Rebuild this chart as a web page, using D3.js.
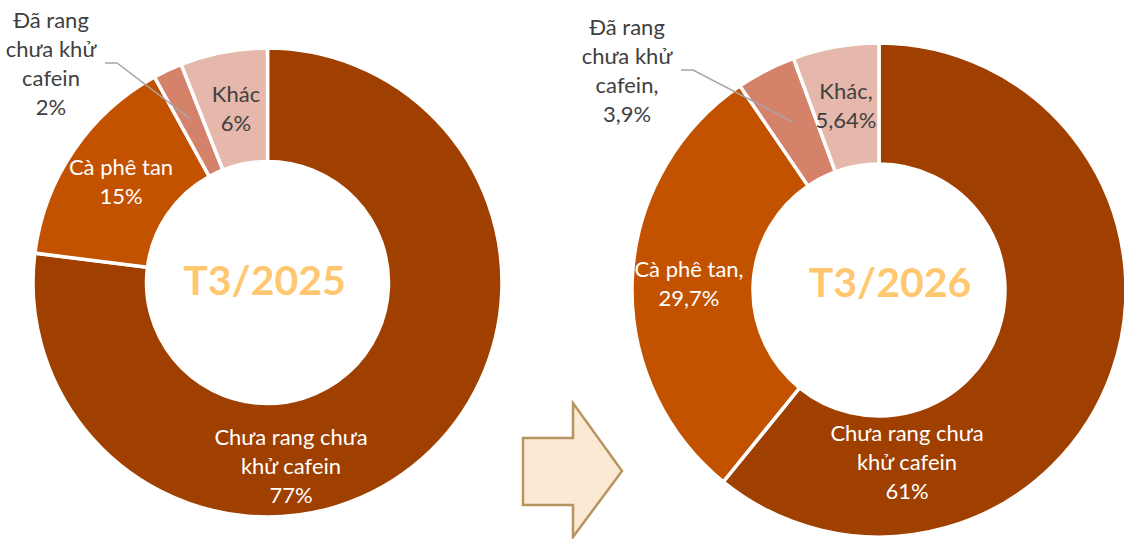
<!DOCTYPE html>
<html>
<head>
<meta charset="utf-8">
<script src="https://cdn.jsdelivr.net/npm/d3@7"></script>
<style>
  html, body { margin: 0; padding: 0; background: #fff; }
  svg { display: block; font-family: Lato, "Noto Sans", sans-serif; }
</style>
</head>
<body>
<div id="chart"></div>
<script>
// categories shared by both doughnuts
const categories = ["Chưa rang chưa khử cafein", "Cà phê tan", "Đã rang chưa khử cafein", "Khác"];
const sliceColors = ["#A04000", "#C25200", "#D5826B", "#E6B8AB"];

// share (%) by period
const values2025 = [77, 15, 2, 6];
const values2026 = [61, 29.7, 3.9, 5.64];

// label text lines, as printed on the picture
const labels2025 = [
  ["Chưa rang chưa", "khử cafein", "77%"],
  ["Cà phê tan", "15%"],
  ["Đã rang", "chưa khử", "cafein", "2%"],
  ["Khác", "6%"]
];
const labels2026 = [
  ["Chưa rang chưa", "khử cafein", "61%"],
  ["Cà phê tan,", "29,7%"],
  ["Đã rang", "chưa khử", "cafein,", "3,9%"],
  ["Khác,", "5,64%"]
];
const titles = ["T3/2025", "T3/2026"];

const W = 1124, H = 539;

const svg = d3.select("#chart")
  .append("svg")
  .attr("width", W)
  .attr("height", H);

// layout of each doughnut (moved labels are offsets from the centre, like Excel manual placement)
const charts = [
  {
    values: values2025, labels: labels2025, title: titles[0],
    cx: 267.5, cy: 282.5, r: 234.5, ri: 121,
    titleOffset: [-3, 12],
    labelOffsets: [[23.5, 162.5], [-146.5, -107.5], [-216.5, -254.5], [-31.5, -180.5]],
    labelColors: ["#fff", "#fff", "#404040", "#404040"]
  },
  {
    values: values2026, labels: labels2026, title: titles[1],
    cx: 879, cy: 290, r: 247, ri: 126,
    titleOffset: [11, 7],
    labelOffsets: [[28, 151], [-190, -13], [-252, -255], [-33, -191]],
    labelColors: ["#fff", "#fff", "#404040", "#404040"]
  }
];

const pie = d3.pie().sort(null).value(d => d);
const lineH = 29;

charts.forEach(c => {
  const g = svg.append("g").attr("transform", `translate(${c.cx},${c.cy})`);
  const arc = d3.arc().innerRadius(c.ri).outerRadius(c.r);
  const arcs = pie(c.values);

  g.selectAll("path.slice")
    .data(arcs)
    .join("path")
    .attr("class", "slice")
    .attr("d", arc)
    .attr("fill", (d, i) => sliceColors[i])
    .attr("stroke", "#fff")
    .attr("stroke-width", 3.5)
    .attr("stroke-linejoin", "miter");

  // leader line for the small slice whose label sits outside
  const midR = (c.ri + c.r) / 2 + 3;
  const small = arcs[2];
  const ang = (small.startAngle + small.endAngle) / 2;
  const tip = [midR * Math.sin(ang), -midR * Math.cos(ang)];
  const lo = c.labelOffsets[2];
  const start = [lo[0] + 54, lo[1] + lineH + 6];
  g.append("polyline")
    .attr("points", [start, [start[0] + 12, start[1]], tip].map(p => p.join(",")).join(" "))
    .attr("fill", "none")
    .attr("stroke", "#A6A6A6")
    .attr("stroke-width", 1.5);

  // data labels
  c.labels.forEach((lines, i) => {
    const [dx, dy] = c.labelOffsets[i];
    const t = g.append("text")
      .attr("x", dx)
      .attr("y", dy)
      .attr("text-anchor", "middle")
      .attr("fill", c.labelColors[i])
      .style("font-size", "22px");
    lines.forEach((s, k) => {
      t.append("tspan")
        .attr("x", dx)
        .attr("dy", k === 0 ? 0 : lineH)
        .text(s);
    });
  });

  // centre title
  g.append("text")
    .attr("x", c.titleOffset[0])
    .attr("y", c.titleOffset[1])
    .attr("text-anchor", "middle")
    .attr("fill", "#FFC870")
    .style("font-size", "41px")
    .style("font-weight", "bold")
    .text(c.title);
});

// arrow between the two doughnuts
const arrow = [[523, 438], [573, 438], [573, 403], [622, 471], [573, 537], [573, 505], [523, 505]];
svg.append("polygon")
  .attr("points", arrow.map(p => p.join(",")).join(" "))
  .attr("fill", "#FBE9D3")
  .attr("stroke", "#B89560")
  .attr("stroke-width", 2.5);
</script>
</body>
</html>
